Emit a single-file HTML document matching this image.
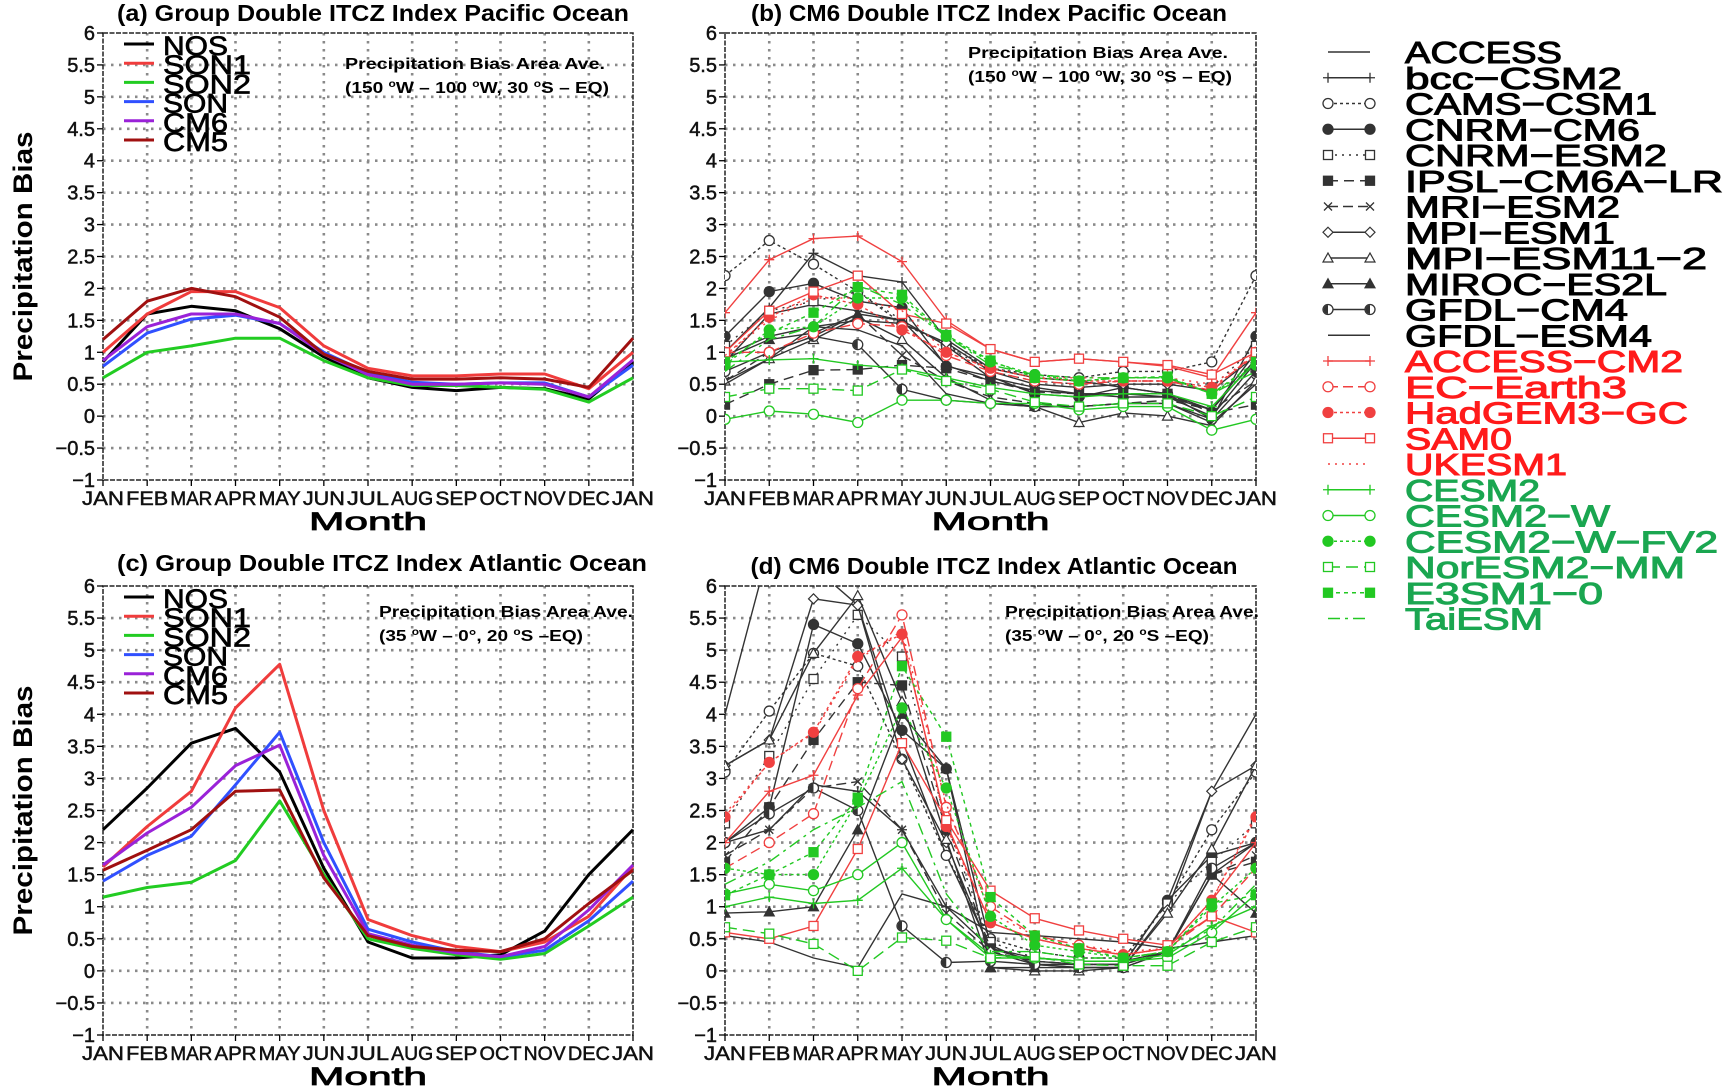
<!DOCTYPE html>
<html><head><meta charset="utf-8"><style>
html,body{margin:0;padding:0;background:#fff;}
svg{display:block;font-family:"Liberation Sans",Arial,sans-serif;}
</style></head><body>
<svg id="fig" width="1725" height="1087" viewBox="0 0 1725 1087" xmlns="http://www.w3.org/2000/svg">
<defs>
<clipPath id="clipB"><rect x="725" y="33" width="531" height="447"/></clipPath>
<clipPath id="clipD"><rect x="725" y="586" width="531" height="449"/></clipPath>
</defs>
</svg>
<script>
// ---- data ----
const months = ["JAN","FEB","MAR","APR","MAY","JUN","JUL","AUG","SEP","OCT","NOV","DEC","JAN"];
const yTicks = [-1,-0.5,0,0.5,1,1.5,2,2.5,3,3.5,4,4.5,5,5.5,6];
const yTickLabels = ["\u22121","\u22120.5","0","0.5","1","1.5","2","2.5","3","3.5","4","4.5","5","5.5","6"];
const groupNames = ["NOS","SON1","SON2","SON","CM6","CM5"];
// Panel (a) Pacific group
const aNOS  = [0.85,1.6,1.72,1.65,1.37,0.93,0.6,0.45,0.4,0.45,0.43,0.27,0.85];
const aSON1 = [1.0,1.6,1.95,1.95,1.7,1.1,0.75,0.63,0.63,0.66,0.66,0.43,1.0];
const aSON2 = [0.6,1.0,1.1,1.22,1.22,0.87,0.6,0.48,0.48,0.45,0.42,0.22,0.6];
const aSON  = [0.78,1.3,1.52,1.58,1.45,1.0,0.68,0.53,0.5,0.52,0.52,0.3,0.8];
const aCM6  = [0.87,1.4,1.6,1.6,1.45,0.97,0.65,0.5,0.5,0.52,0.5,0.3,0.88];
const aCM5  = [1.2,1.8,2.0,1.87,1.55,0.97,0.7,0.58,0.58,0.6,0.58,0.45,1.22];
// Panel (c) Atlantic group
const cNOS  = [2.2,2.85,3.55,3.78,3.1,1.6,0.45,0.2,0.2,0.25,0.62,1.5,2.2];
const cSON1 = [1.62,2.25,2.8,4.1,4.78,2.5,0.8,0.55,0.38,0.3,0.45,0.85,1.62];
const cSON2 = [1.15,1.3,1.38,1.72,2.65,1.5,0.5,0.35,0.25,0.18,0.27,0.7,1.15];
const cSON  = [1.4,1.8,2.1,2.9,3.72,2.0,0.65,0.45,0.3,0.22,0.32,0.78,1.4];
const cCM6  = [1.65,2.15,2.55,3.2,3.52,1.8,0.58,0.4,0.28,0.22,0.38,0.95,1.65];
const cCM5  = [1.57,1.88,2.2,2.8,2.82,1.45,0.55,0.38,0.32,0.3,0.5,1.05,1.57];
// Models
const modelNames = ["ACCESS","bcc\u2212CSM2","CAMS\u2212CSM1","CNRM\u2212CM6","CNRM\u2212ESM2","IPSL\u2212CM6A\u2212LR","MRI\u2212ESM2","MPI\u2212ESM1","MPI\u2212ESM11\u22122","MIROC\u2212ES2L","GFDL\u2212CM4","GFDL\u2212ESM4","ACCESS\u2212CM2","EC\u2212Earth3","HadGEM3\u2212GC","SAM0","UKESM1","CESM2","CESM2\u2212W","CESM2\u2212W\u2212FV2","NorESM2\u2212MM","E3SM1\u22120","TaiESM"];
// Panel (b) Pacific models
const bACCESS=[0.85,1.6,1.75,1.65,1.5,1.1,0.6,0.45,0.35,0.3,0.3,0.0,0.85];
const bBCC=[1.0,1.7,2.55,2.2,2.1,1.2,0.75,0.6,0.55,0.45,0.35,0.1,1.0];
const bCAMS=[2.2,2.75,2.38,1.95,1.45,1.12,0.75,0.65,0.6,0.7,0.7,0.85,2.2];
const bCNRMCM6=[1.25,1.95,2.08,1.8,1.7,0.78,0.62,0.35,0.3,0.45,0.35,-0.05,1.25];
const bCNRMESM2=[1.1,1.65,1.8,1.95,1.5,1.1,0.7,0.55,0.5,0.55,0.55,0.45,1.1];
const bIPSL=[0.18,0.5,0.72,0.73,0.8,0.75,0.55,0.38,0.35,0.35,0.35,0.05,0.18];
const bMRI=[0.55,1.0,1.25,1.6,0.95,0.55,0.3,0.2,0.15,0.2,0.25,0.1,0.55];
const bMPI1=[0.95,1.25,1.4,1.5,1.45,1.15,0.7,0.5,0.45,0.5,0.5,0.4,0.95];
const bMPI112=[0.55,0.9,1.2,1.55,1.2,0.6,0.25,0.15,-0.1,0.05,0.0,-0.15,0.55];
const bMIROC=[0.9,1.2,1.3,1.6,1.5,0.8,0.55,0.4,0.35,0.35,0.3,0.1,0.9];
const bGFDLCM4=[0.7,1.0,1.25,1.12,0.42,0.25,0.2,0.15,0.15,0.2,0.2,-0.05,0.7];
const bGFDLESM4=[0.5,0.9,1.4,1.35,1.1,0.35,0.2,0.15,0.15,0.2,0.2,-0.1,0.5];
const bACCESSCM2=[1.62,2.45,2.78,2.82,2.42,1.5,1.05,0.85,0.9,0.85,0.78,0.6,1.62];
const bEC=[1.0,1.0,1.3,1.45,1.4,0.95,0.7,0.55,0.5,0.55,0.55,0.4,1.0];
const bHAD=[0.95,1.55,1.9,1.75,1.35,1.0,0.75,0.6,0.55,0.55,0.55,0.45,0.95];
const bSAM0=[1.0,1.65,1.95,2.2,1.6,1.45,1.05,0.85,0.9,0.85,0.8,0.65,1.0];
const bUKESM=[0.95,1.5,1.85,1.85,1.65,1.0,0.75,0.6,0.6,0.6,0.6,0.5,0.95];
const bCESM2=[0.85,0.88,0.9,0.8,0.75,0.6,0.45,0.35,0.3,0.35,0.35,0.15,0.85];
const bCESM2W=[-0.05,0.08,0.03,-0.1,0.25,0.25,0.2,0.2,0.1,0.15,0.15,-0.22,-0.05];
const bCESM2WFV2=[0.8,1.35,1.4,1.85,1.85,1.25,0.85,0.65,0.55,0.6,0.6,0.35,0.8];
const bNOR=[0.3,0.43,0.43,0.4,0.73,0.55,0.42,0.22,0.15,0.2,0.2,0.0,0.3];
const bE3SM=[0.85,1.3,1.62,2.02,1.9,1.27,0.87,0.6,0.55,0.6,0.62,0.35,0.85];
const bTAI=[0.7,1.2,1.4,2.05,1.75,1.25,0.8,0.65,0.6,0.6,0.6,0.35,0.7];
// Panel (d) Atlantic models
const dACCESS=[4.0,6.6,6.3,5.7,3.6,1.8,0.35,0.15,0.1,0.1,1.1,2.8,4.0];
const dBCC=[2.0,2.2,2.9,2.8,2.2,1.0,0.35,0.2,0.15,0.15,0.3,1.5,2.0];
const dCAMS=[3.1,4.05,4.95,4.75,3.3,1.8,0.5,0.3,0.2,0.2,1.05,2.2,3.1];
const dCNRMCM6=[2.0,2.55,5.4,5.1,3.75,3.15,0.4,0.1,0.1,0.1,1.1,1.8,2.0];
const dCNRMESM2=[2.3,3.35,4.55,5.55,4.9,2.3,0.45,0.2,0.15,0.15,1.05,1.7,2.3];
const dIPSL=[1.7,2.55,3.6,4.5,4.45,2.2,0.35,0.15,0.1,0.1,0.3,1.5,1.7];
const dMRI=[1.8,2.2,2.85,2.95,2.2,0.9,0.3,0.15,0.1,0.1,0.3,1.5,1.8];
const dMPI1=[3.2,3.6,5.8,5.7,3.3,2.0,0.3,0.1,0.05,0.05,0.95,2.8,3.2];
const dMPI112=[3.2,3.6,4.95,5.85,4.2,2.05,0.05,0.0,0.0,0.05,0.9,1.9,3.2];
const dMIROC=[0.9,0.92,1.0,2.2,4.0,3.15,0.05,0.05,0.05,0.05,0.3,1.5,0.9];
const dGFDLCM4=[2.0,2.45,2.85,2.5,0.7,0.13,0.15,0.1,0.05,0.05,0.3,1.6,2.0];
const dGFDLESM4=[0.55,0.45,0.2,0.05,1.2,1.0,0.6,0.55,0.5,0.45,0.35,0.45,0.55];
const dACCESSCM2=[2.0,2.8,3.05,4.3,5.2,2.3,0.75,0.5,0.35,0.25,0.35,1.1,2.0];
const dEC=[1.6,2.0,2.45,4.4,5.55,2.55,1.0,0.55,0.4,0.25,0.35,0.85,1.6];
const dHAD=[2.4,3.25,3.72,4.9,5.25,2.25,0.75,0.5,0.35,0.25,0.35,1.1,2.4];
const dSAM0=[0.6,0.5,0.7,1.9,3.55,2.35,1.25,0.82,0.63,0.5,0.4,0.85,0.6];
const dUKESM=[2.45,3.25,3.7,4.85,5.3,2.6,0.9,0.55,0.4,0.3,0.35,1.1,2.45];
const dCESM2=[1.0,1.15,1.05,1.1,1.6,0.8,0.25,0.2,0.15,0.15,0.25,0.7,1.0];
const dCESM2W=[1.2,1.35,1.25,1.5,2.0,0.8,0.2,0.2,0.15,0.15,0.2,0.6,1.2];
const dCESM2WFV2=[1.6,1.5,1.5,2.65,4.1,2.85,0.85,0.4,0.3,0.2,0.3,1.0,1.6];
const dNOR=[0.68,0.58,0.42,0.0,0.52,0.47,0.2,0.22,0.1,0.08,0.08,0.45,0.68];
const dE3SM=[1.18,1.5,1.85,2.7,4.75,3.65,1.15,0.55,0.35,0.2,0.3,1.05,1.18];
const dTAI=[1.35,1.7,2.2,2.55,2.95,1.2,0.3,0.3,0.2,0.2,0.3,0.65,1.35];

const groupA=[aNOS,aSON1,aSON2,aSON,aCM6,aCM5];
const groupC=[cNOS,cSON1,cSON2,cSON,cCM6,cCM5];
const modelsB=[bACCESS,bBCC,bCAMS,bCNRMCM6,bCNRMESM2,bIPSL,bMRI,bMPI1,bMPI112,bMIROC,bGFDLCM4,bGFDLESM4,bACCESSCM2,bEC,bHAD,bSAM0,bUKESM,bCESM2,bCESM2W,bCESM2WFV2,bNOR,bE3SM,bTAI];
const modelsD=[dACCESS,dBCC,dCAMS,dCNRMCM6,dCNRMESM2,dIPSL,dMRI,dMPI1,dMPI112,dMIROC,dGFDLCM4,dGFDLESM4,dACCESSCM2,dEC,dHAD,dSAM0,dUKESM,dCESM2,dCESM2W,dCESM2WFV2,dNOR,dE3SM,dTAI];

// ---- styles ----
const groupColors=["#000000","#f03c3c","#22cc22","#3050ff","#9a22d8","#a01010"];
const BK="#333333",RD="#f04040",GR="#22c822";
const modelStyles=[
 [BK,"",""],[BK,"","plus"],[BK,"3,3","circle"],[BK,"","fcircle"],[BK,"2,5","square"],[BK,"10,6","fsquare"],
 [BK,"10,5","x"],[BK,"","diamond"],[BK,"","tri"],[BK,"","ftri"],[BK,"","half"],[BK,"",""],
 [RD,"","plus"],[RD,"10,5","circle"],[RD,"3,3","fcircle"],[RD,"","square"],[RD,"2,5",""],
 [GR,"","plus"],[GR,"","circle"],[GR,"3,3","fcircle"],[GR,"12,6","square"],[GR,"4,4","fsquare"],[GR,"12,5,3,5",""]];
const textColors=[];for(let i=0;i<23;i++)textColors.push(i<12?"#000":(i<17?"#ff1a1a":"#1aa650"));
const legendWidths=[157,217,252,235,262,318,215,210,302,262,223,247,278,222,283,107,162,135,205,313,280,198,138];

const NS="http://www.w3.org/2000/svg";
const svg=document.getElementById("fig");
function mk(tag,attrs,parent){const e=document.createElementNS(NS,tag);for(const k in attrs)e.setAttribute(k,attrs[k]);(parent||svg).appendChild(e);return e;}

function makeAxes(x0,x1,y0,y1){return{x:i=>x0+(x1-x0)*i/12,y:v=>y1-(y1-y0)*(v+1)/7,x0,x1,y0,y1};}

function drawMarker(g,type,cx,cy,col){
 const r=4.5;let m=null;
 if(type==="plus"){m=mk("path",{d:`M${cx-5},${cy}H${cx+5}M${cx},${cy-5}V${cy+5}`,stroke:col,"stroke-width":1.3,fill:"none"},g);}
 else if(type==="x"){m=mk("path",{d:`M${cx-4},${cy-4}L${cx+4},${cy+4}M${cx-4},${cy+4}L${cx+4},${cy-4}`,stroke:col,"stroke-width":1.3,fill:"none"},g);}
 else if(type==="circle"||type==="fcircle"){m=mk("circle",{cx,cy,r:r+0.5,fill:type==="fcircle"?col:"#fff",stroke:col,"stroke-width":1.3},g);}
 else if(type==="square"||type==="fsquare"){m=mk("rect",{x:cx-r,y:cy-r,width:2*r,height:2*r,fill:type==="fsquare"?col:"#fff",stroke:col,"stroke-width":1.3},g);}
 else if(type==="diamond"){m=mk("path",{d:`M${cx},${cy-5}L${cx+5},${cy}L${cx},${cy+5}L${cx-5},${cy}Z`,fill:"#fff",stroke:col,"stroke-width":1.2},g);}
 else if(type==="tri"||type==="ftri"){m=mk("path",{d:`M${cx},${cy-5}L${cx+5},${cy+4}L${cx-5},${cy+4}Z`,fill:type==="ftri"?col:"#fff",stroke:col,"stroke-width":1.2},g);}
 else if(type==="half"){m=mk("circle",{cx,cy,r:r+0.5,fill:"#fff",stroke:col,"stroke-width":1.3},g);mk("path",{d:`M${cx},${cy-r}A${r},${r} 0 0 0 ${cx},${cy+r}Z`,fill:col},g);}
 if(m){}
}

function drawFrame(ax,name,labelX,showLabels){
 const g=mk("g",{});
 
 
 for(let i=1;i<12;i++){const l=mk("line",{x1:ax.x(i),x2:ax.x(i),y1:ax.y0,y2:ax.y1,stroke:"#8a8a8a","stroke-width":2.6,"stroke-dasharray":"2.5,5.5"},g);
  }
 yTicks.forEach((v,k)=>{if(k>0&&k<yTicks.length-1){const l=mk("line",{x1:ax.x0,x2:ax.x1,y1:ax.y(v),y2:ax.y(v),stroke:"#8a8a8a","stroke-width":2.6,"stroke-dasharray":"2.5,5.5"},g);
  }});
 const fr=mk("rect",{x:ax.x0,y:ax.y0,width:ax.x1-ax.x0,height:ax.y1-ax.y0,fill:"none",stroke:"#222","stroke-width":1.5,"stroke-dasharray":"5,1.5"},g);
 
 yTicks.forEach((v,k)=>{mk("line",{x1:ax.x0-6,x2:ax.x0,y1:ax.y(v),y2:ax.y(v),stroke:"#000","stroke-width":1.3},g);
  const t=mk("text",{x:ax.x0-8,y:ax.y(v)+7,"text-anchor":"end","font-size":20,fill:"#111",stroke:"#111","stroke-width":0.5},g);t.textContent=yTickLabels[k];
  });
 months.forEach((m,i)=>{mk("line",{x1:ax.x(i),x2:ax.x(i),y1:ax.y1,y2:ax.y1+6,stroke:"#000","stroke-width":1.3},g);
  const t=mk("text",{x:ax.x(i),y:ax.y1+25,"text-anchor":"middle","font-size":19,fill:"#111",stroke:"#111","stroke-width":0.5,textLength:42,lengthAdjust:"spacingAndGlyphs"},g);t.textContent=m;
  });
 const mt=mk("text",{x:(ax.x0+ax.x1)/2,y:ax.y1+50,"text-anchor":"middle","font-size":25,fill:"#000",stroke:"#000","stroke-width":0.8,textLength:118,lengthAdjust:"spacingAndGlyphs"},g);mt.textContent="Month";
 
 if(showLabels){const yc=(ax.y0+ax.y1)/2;const yt=mk("text",{x:0,y:0,transform:`translate(${labelX},${yc}) rotate(-90)`,"text-anchor":"middle","font-size":27,"font-weight":"bold",fill:"#000",textLength:250,lengthAdjust:"spacingAndGlyphs"},g);
  yt.textContent="Precipitation Bias";}
}

function drawTitle(txt,cx,y,w){const t=mk("text",{x:cx,y:y,"text-anchor":"middle","font-size":23,"font-weight":"bold",fill:"#000",textLength:w,lengthAdjust:"spacingAndGlyphs"});t.textContent=txt;
 }

function drawNote(l1,l2,x,y,w1,w2){
 const t1=mk("text",{x:x,y:y,"font-size":16,"font-weight":"bold",fill:"#000",textLength:w1,lengthAdjust:"spacingAndGlyphs"});t1.textContent=l1;
 
 const t2=mk("text",{x:x,y:y+24,"font-size":16,"font-weight":"bold",fill:"#000",textLength:w2,lengthAdjust:"spacingAndGlyphs"});
 t2.innerHTML=l2;}

function drawGroup(ax,series,name){
 const g=mk("g",{});
 series.forEach((s,k)=>{const d=s.map((v,i)=>(i?"L":"M")+ax.x(i).toFixed(1)+","+ax.y(v).toFixed(1)).join("");
  const p=mk("path",{d,fill:"none",stroke:groupColors[k],"stroke-width":3,"stroke-linejoin":"round"},g);
  });
}
function drawGroupLegend(x,y){
 const g=mk("g",{});
 const w=[65,88,88,65,65,65];
 groupNames.forEach((n,k)=>{const yy=y+k*19.2;
  const l=mk("line",{x1:x,x2:x+30,y1:yy,y2:yy,stroke:groupColors[k],"stroke-width":3},g);
  
  const t=mk("text",{x:x+39,y:yy+11,"font-size":27,fill:"#000",stroke:"#000","stroke-width":0.7,textLength:w[k],lengthAdjust:"spacingAndGlyphs"},g);t.textContent=n;
  });
}
function drawModels(ax,series,name,clip){
 const g=mk("g",{"clip-path":`url(#${clip})`});
 series.forEach((s,k)=>{const st=modelStyles[k];
  const d=s.map((v,i)=>(i?"L":"M")+ax.x(i).toFixed(1)+","+ax.y(v).toFixed(1)).join("");
  const p=mk("path",{d,fill:"none",stroke:st[0],"stroke-width":1.4,"stroke-dasharray":st[1]},g);
  
  if(st[2])s.forEach((v,i)=>drawMarker(g,st[2],ax.x(i),ax.y(v),st[0]));});
}

const axA=makeAxes(103,633,33,480), axB=makeAxes(725,1256,33,480);
const axC=makeAxes(103,633,586,1035), axD=makeAxes(725,1256,586,1035);
drawTitle("(a) Group Double ITCZ Index Pacific Ocean",373,21,512);
drawTitle("(b) CM6 Double ITCZ Index Pacific Ocean",989,21,476);
drawTitle("(c) Group Double ITCZ Index  Atlantic Ocean",382,571,530);
drawTitle("(d) CM6 Double ITCZ Index Atlantic Ocean",994,574,487);
drawFrame(axA,"panel-a",32,true);drawFrame(axB,"panel-b",0,false);
drawFrame(axC,"panel-c",32,true);drawFrame(axD,"panel-d",0,false);
drawNote("Precipitation Bias Area Ave.","(150 <tspan font-size='10' dy='-6'>o</tspan><tspan dy='6'>W – 100 </tspan><tspan font-size='10' dy='-6'>o</tspan><tspan dy='6'>W, 30 </tspan><tspan font-size='10' dy='-6'>o</tspan><tspan dy='6'>S – EQ)</tspan>",345,69,260,264);
drawNote("Precipitation Bias Area Ave.","(150 <tspan font-size='10' dy='-6'>o</tspan><tspan dy='6'>W – 100 </tspan><tspan font-size='10' dy='-6'>o</tspan><tspan dy='6'>W, 30 </tspan><tspan font-size='10' dy='-6'>o</tspan><tspan dy='6'>S – EQ)</tspan>",968,58,260,264);
drawNote("Precipitation Bias Area Ave.","(35 <tspan font-size='10' dy='-6'>o</tspan><tspan dy='6'>W – 0°, 20 </tspan><tspan font-size='10' dy='-6'>o</tspan><tspan dy='6'>S –EQ)</tspan>",379,617,254,204);
drawNote("Precipitation Bias Area Ave.","(35 <tspan font-size='10' dy='-6'>o</tspan><tspan dy='6'>W – 0°, 20 </tspan><tspan font-size='10' dy='-6'>o</tspan><tspan dy='6'>S –EQ)</tspan>",1005,617,254,204);
drawGroup(axA,groupA,"panel-a");drawGroupLegend(124,44);
drawGroup(axC,groupC,"panel-c");drawGroupLegend(124,597);
drawModels(axB,modelsB,"panel-b","clipB");
drawModels(axD,modelsD,"panel-d","clipD");
// right model legend
const lg=mk("g",{});
modelNames.forEach((n,k)=>{const yy=52+k*25.75;const st=modelStyles[k];
 const l=mk("line",{x1:1328,x2:1370,y1:yy,y2:yy,stroke:st[0],"stroke-width":1.4,"stroke-dasharray":st[1]},lg);
 
 if(st[2]){drawMarker(lg,st[2],1328,yy,st[0]);drawMarker(lg,st[2],1370,yy,st[0]);}
 const t=mk("text",{x:1405,y:yy+11,"font-size":31,fill:textColors[k],stroke:textColors[k],"stroke-width":1,textLength:legendWidths[k],lengthAdjust:"spacingAndGlyphs"},lg);t.textContent=n;
 });
</script>
</body></html>
